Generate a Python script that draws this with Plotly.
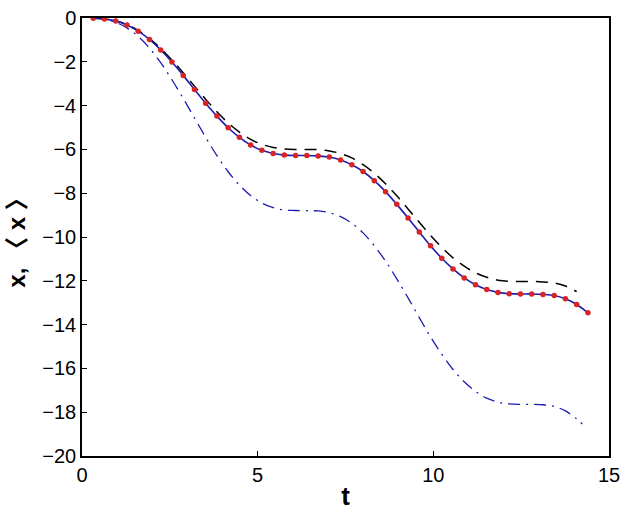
import plotly.graph_objects as go

# time grid of the sampled points (dots)
t = [0.32, 0.64, 0.96, 1.28, 1.60, 1.92, 2.24, 2.56, 2.88, 3.20, 3.52, 3.84, 4.16, 4.48,
     4.80, 5.12, 5.44, 5.76, 6.08, 6.40, 6.72, 7.04, 7.36, 7.68, 8.00, 8.32, 8.64, 8.96,
     9.28, 9.60, 9.92, 10.24, 10.56, 10.88, 11.20, 11.52, 11.84, 12.16, 12.48, 12.80,
     13.12, 13.44, 13.76, 14.08, 14.40]

# <x> (red dots) and x (blue solid), overlapping
x_mean = [-0.01, -0.04, -0.14, -0.32, -0.60, -0.98, -1.46, -2.01, -2.62, -3.26, -3.89,
          -4.48, -5.01, -5.45, -5.80, -6.04, -6.19, -6.26, -6.28, -6.28, -6.30, -6.35,
          -6.48, -6.70, -7.01, -7.43, -7.93, -8.51, -9.13, -9.77, -10.40, -10.97, -11.46,
          -11.87, -12.18, -12.40, -12.53, -12.59, -12.60, -12.60, -12.62, -12.67, -12.82,
          -13.08, -13.46]

# black dashed curve
t_dash = t[:44]
x_dash = [-0.01, -0.04, -0.13, -0.31, -0.57, -0.94, -1.39, -1.92, -2.50, -3.11, -3.71,
          -4.28, -4.79, -5.21, -5.54, -5.77, -5.91, -5.98, -6.00, -6.00, -6.01, -6.07,
          -6.19, -6.39, -6.70, -7.09, -7.57, -8.12, -8.72, -9.33, -9.93, -10.47, -10.95,
          -11.33, -11.63, -11.84, -11.97, -12.02, -12.03, -12.03, -12.05, -12.10, -12.24,
          -12.49]

# blue dash-dot curve
t_dd = t[:44] + [14.24]
x_dd = [-0.01, -0.06, -0.20, -0.45, -0.84, -1.37, -2.04, -2.82, -3.67, -4.56, -5.45,
        -6.28, -7.02, -7.63, -8.11, -8.45, -8.66, -8.77, -8.79, -8.80, -8.81, -8.89,
        -9.07, -9.37, -9.81, -10.40, -11.10, -11.91, -12.78, -13.68, -14.56, -15.35,
        -16.05, -16.61, -17.05, -17.36, -17.54, -17.62, -17.64, -17.64, -17.66, -17.74,
        -17.94, -18.31, -18.54]

x_ticks = [0, 5, 10, 15]
y_ticks = [0, -2, -4, -6, -8, -10, -12, -14, -16, -18, -20]

blue = "#1c1cb0"

fig = go.Figure()
fig.add_trace(go.Scatter(x=t_dd, y=x_dd, mode="lines",
                         line=dict(color=blue, width=1.3, dash="12px,6px,2px,6px", shape="spline"),
                         showlegend=False))
fig.add_trace(go.Scatter(x=t_dash, y=x_dash, mode="lines",
                         line=dict(color="black", width=1.5, dash="12px,8px", shape="spline"),
                         showlegend=False))
fig.add_trace(go.Scatter(x=t, y=x_mean, mode="lines",
                         line=dict(color=blue, width=1.6, shape="spline"),
                         showlegend=False))
fig.add_trace(go.Scatter(x=t, y=x_mean, mode="markers",
                         marker=dict(color="#d82424", size=5.5),
                         showlegend=False))

axis_common = dict(showgrid=False, zeroline=False, showline=True, linecolor="black",
                   linewidth=1.5, mirror=True, ticks="inside", ticklen=5,
                   tickcolor="black", ticklabeloverflow="allow",
                   tickfont=dict(family="Liberation Sans, Arial", size=20, color="black"))

fig.update_layout(
    width=627, height=513,
    margin=dict(l=82, r=11, t=7, b=57),
    plot_bgcolor="white", paper_bgcolor="white",
    xaxis=dict(range=[0, 15], tickvals=x_ticks,
               title=dict(text="<b>t</b>", font=dict(family="Liberation Sans, Arial", size=26, color="black"),
                          standoff=2),
               **axis_common),
    yaxis=dict(range=[-20, 0], tickvals=y_ticks, ticktext=[str(v).replace("-", "\u2212") for v in y_ticks],
               title=dict(text="<b>x, \u3008 x \u3009</b>",
                          font=dict(family="Liberation Sans, Noto Sans CJK SC, Arial", size=24, color="black"),
                          standoff=10),
               **axis_common),
)

fig.write_html("out.html")
